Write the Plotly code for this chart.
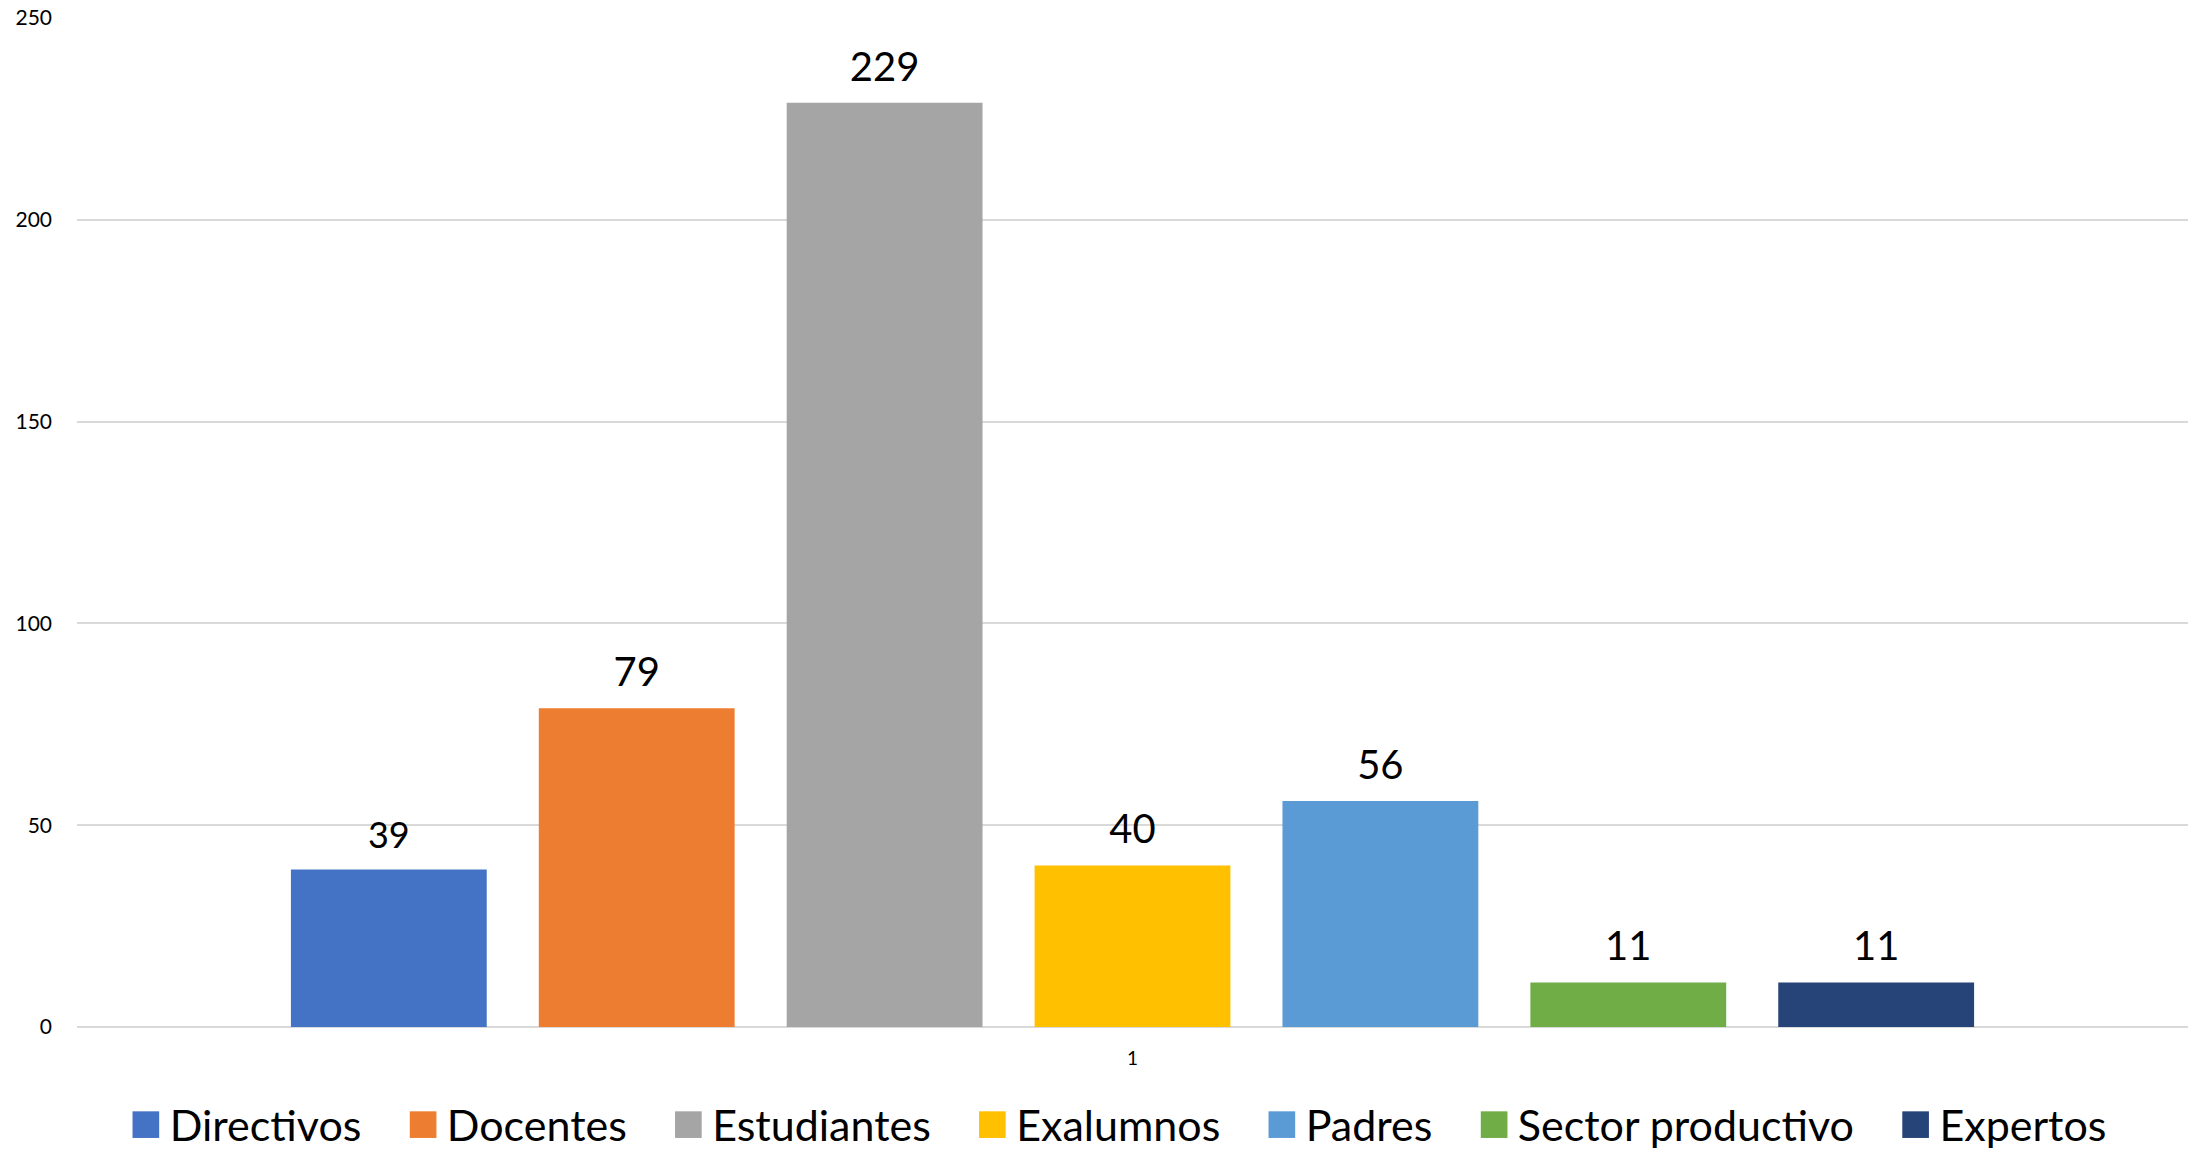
import plotly.graph_objects as go

categories = ["Directivos", "Docentes", "Estudiantes", "Exalumnos", "Padres", "Sector productivo", "Expertos"]
values = [39, 79, 229, 40, 56, 11, 11]
colors = ["#4472C4", "#ED7D31", "#A5A5A5", "#FFC000", "#5B9BD5", "#70AD47", "#264478"]
x_label = ["1"]
y_ticks = [0, 50, 100, 150, 200, 250]

# label font sizes (the reference uses slightly smaller text on one label)
label_sizes = [36, 40, 40, 40, 40, 40, 40]

FONT = "Lato"
BARGAP = 0.178

fig = go.Figure()
for i, (cat, val, col) in enumerate(zip(categories, values, colors)):
    fig.add_trace(go.Bar(
        x=x_label, y=[val], name=cat, marker=dict(color=col, line=dict(width=0)),
        offsetgroup=str(i), showlegend=False, hoverinfo="skip",
    ))
# value labels, grouped the same way as the bars
for i, (cat, val) in enumerate(zip(categories, values)):
    fig.add_trace(go.Scatter(
        x=x_label, y=[val], mode="markers+text", offsetgroup=str(i),
        marker=dict(size=18, color="rgba(0,0,0,0)"),
        text=[str(val)], textposition="top center", cliponaxis=False,
        textfont=dict(family=FONT, size=label_sizes[i], color="#000000"),
        showlegend=False, hoverinfo="skip",
    ))
# legend entries with large square swatches
for cat, col in zip(categories, colors):
    fig.add_trace(go.Scatter(
        x=[None], y=[None], mode="markers",
        marker=dict(size=1, color="rgba(0,0,0,0)"),
        name=f"<span style='color:{col};font-size:55px'>■</span><span style='font-size:28px'> </span>{cat}",
        showlegend=True,
    ))

fig.update_layout(
    width=2198, height=1154,
    margin=dict(l=77, r=10, t=18, b=127, autoexpand=False),
    paper_bgcolor="white", plot_bgcolor="white",
    barmode="group", bargap=BARGAP, bargroupgap=0.21,
    scattermode="group", scattergap=BARGAP,
    font=dict(family=FONT, color="#000000"),
    legend=dict(
        orientation="h", x=0.485, xanchor="center", y=-0.0965, yanchor="middle",
        font=dict(family=FONT, size=43, color="#000000"),
        itemclick=False, itemdoubleclick=False,
    ),
    xaxis=dict(
        type="category", showgrid=False, showline=False, zeroline=False, automargin=False,
        tickfont=dict(family=FONT, size=19, color="#000000"),
        ticklabelstandoff=18,
    ),
    yaxis=dict(
        range=[0, 250], tickvals=y_ticks, showgrid=True, gridcolor="#D9D9D9", gridwidth=1.5,
        zeroline=True, zerolinecolor="#D9D9D9", zerolinewidth=2, automargin=False,
        showline=False,
        tickfont=dict(family=FONT, size=21, color="#000000"),
        ticklabelstandoff=24,
    ),
)

fig.write_html(
    "out.html",
    config={"displayModeBar": False},
    post_script="document.body.style.margin='0';document.body.style.padding='0';document.body.style.overflow='hidden';",
)
